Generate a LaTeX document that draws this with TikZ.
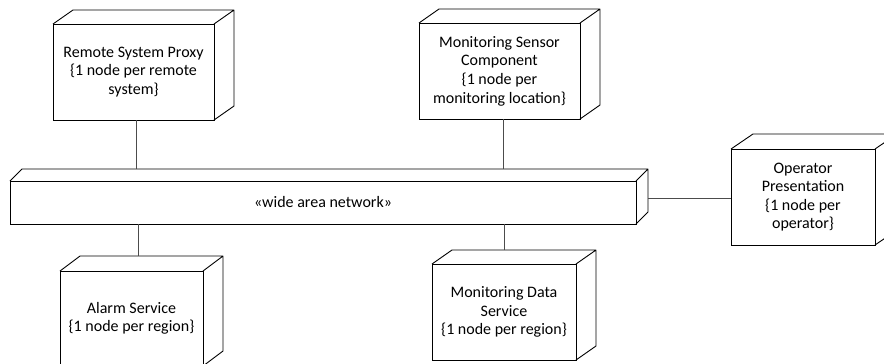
\documentclass[tikz,border=0pt]{standalone}
\usepackage{fontspec}
\setmainfont{Carlito}
\usetikzlibrary{calc}
\begin{document}
\begin{tikzpicture}[x=1pt,y=-1pt,
  boxline/.style={draw=black,line width=0.9pt},
  devbox/.style={boxline,fill=white,outer sep=0pt,inner sep=2pt,align=center,
    font=\fontsize{16}{18.6}\selectfont},
  link/.style={draw=black!70,line width=0.9pt}]
\useasboundingbox (0,0) rectangle (884,364);
\clip (0,0) rectangle (884,364);

% back faces of a device box, offset (dx,dy) from the front face
\newcommand\devback[3]{%
  \draw[boxline,line join=round] (#1.north west) -- ++(#2,#3)
    -- ($(#1.north east)+(#2,#3)$) -- ($(#1.south east)+(#2,#3)$)
    -- (#1.south east)
    (#1.north east) -- ++(#2,#3);}

% network bus
\node[devbox,minimum width=626pt,minimum height=43pt] (bus) at (323,202.5)
  {«wide area network»};
\devback{bus}{12}{-12}

% upper devices
\node[devbox,minimum width=161pt,minimum height=96pt] (rsp) at (133.5,72)
  {Remote System Proxy\\\{1 node per remote\\system\}};
\devback{rsp}{20}{-14}

\node[devbox,minimum width=161pt,minimum height=96pt] (msc) at (499.5,71)
  {Monitoring Sensor\\Component\\\{1 node per\\monitoring location\}};
\devback{msc}{20}{-14}

% right device
\node[devbox,minimum width=144pt,minimum height=96pt] (op) at (803,197)
  {Operator\\Presentation\\\{1 node per\\operator\}};
\devback{op}{22}{-15}

% lower devices
\node[devbox,minimum width=143pt,minimum height=95pt] (alarm) at (131.5,318.5)
  {Alarm Service\\\{1 node per region\}};
\devback{alarm}{20}{-15}

\node[devbox,minimum width=144pt,minimum height=96pt] (mds) at (504,312)
  {Monitoring Data\\Service\\\{1 node per region\}};
\devback{mds}{20}{-14}

% connections to the network
\coordinate (busTop) at ($(bus.north west)+(12,-12)$);
\coordinate (busRight) at ($(bus.east)+(12,-4)$);
\draw[link] (rsp.south -| 136,0) -- (busTop -| 136,0);
\draw[link] (msc.south -| 503,0) -- (busTop -| 503,0);
\draw[link] (bus.south -| 138,0) -- ($(alarm.north -| 138,0)+(0,-15)$);
\draw[link] (bus.south -| 504,0) -- ($(mds.north -| 504,0)+(0,-14)$);
\draw[link] (busRight) -- (busRight -| op.west);
\end{tikzpicture}
\end{document}
